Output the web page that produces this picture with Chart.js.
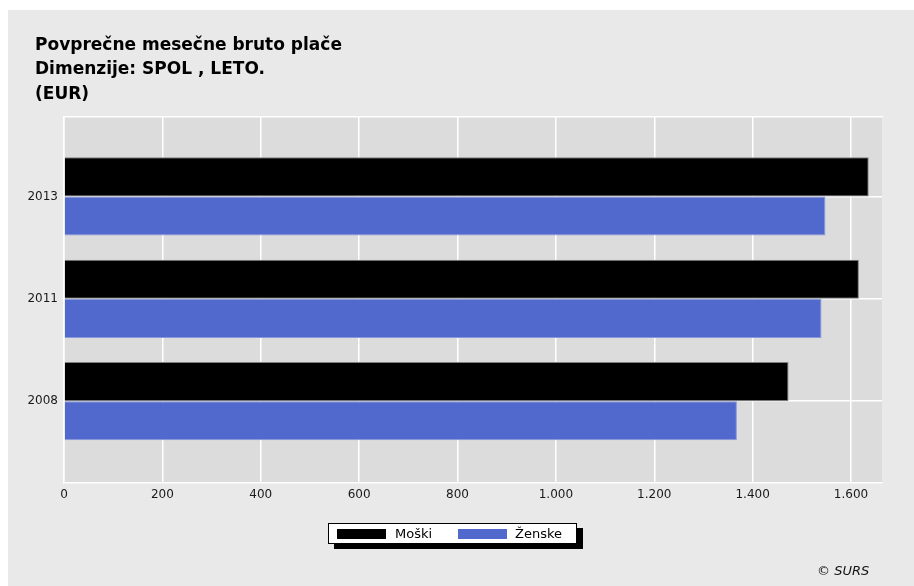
<!DOCTYPE html>
<html>
<head>
<meta charset="utf-8">
<script src="https://cdn.jsdelivr.net/npm/chart.js@4"></script>
<style>
  body { margin: 0; background: #fff; width: 914px; height: 586px; overflow: hidden; position: relative; font-family: "DejaVu Sans", sans-serif; }
  #panel { position: absolute; left: 8px; top: 10px; width: 906px; height: 576px; background: #e9e9e9; }
  #legend { position: absolute; left: 328px; top: 523px; width: 247px; height: 19px; background: #fff; border: 1px solid #000; box-shadow: 6px 5px 0 #000; font-size: 13px; color: #000; }
  #legend span.sw { position: absolute; top: 5px; width: 49px; height: 10px; }
  #legend span.lb { position: absolute; top: 1px; line-height: 17px; }
  #src { position: absolute; left: 817px; top: 563px; font-size: 13px; font-style: italic; color: #111; }
</style>
</head>
<body>
<div id="panel"><canvas id="chart" width="906" height="576"></canvas></div>
<div id="legend"></div>
<div id="src">© SURS</div>
<script>
// --- Data ---
const years = ["2013", "2011", "2008"];
const male = [1636, 1616, 1473];
const female = [1548, 1540, 1368];
const seriesNames = ["Moški", "Ženske"];
const seriesColors = ["#000000", "#5168cc"];
const seriesBorders = ["#808080", "#8797dc"];
const titleLines = ["Povprečne mesečne bruto plače", "Dimenzije: SPOL , LETO.", "(EUR)"];

const X_MAX = 1663;
const Y_MIN = -0.777;
const Y_MAX = 2.80;
const TITLE_LEFT = 27;

// Plot area background + title indent
const plotBg = {
  id: "plotBg",
  afterLayout(chart) {
    if (chart.titleBlock) chart.titleBlock.left = TITLE_LEFT;
  },
  beforeDraw(chart) {
    const { ctx, chartArea: a } = chart;
    ctx.save();
    ctx.fillStyle = "#dcdcdc";
    ctx.fillRect(a.left, a.top, a.right - a.left, a.bottom - a.top);
    ctx.restore();
  }
};

const fmt = v => String(v).replace(/\B(?=(\d{3})+(?!\d))/g, ".");

const chart = new Chart(document.getElementById("chart"), {
  type: "bar",
  data: {
    datasets: [male, female].map((vals, s) => ({
      label: seriesNames[s],
      data: vals.map((v, i) => ({ x: v, y: i })),
      backgroundColor: seriesColors[s],
      borderColor: seriesBorders[s],
      borderWidth: 1,
      categoryPercentage: 0.765,
      barPercentage: 1
    }))
  },
  options: {
    indexAxis: "y",
    responsive: false,
    animation: false,
    layout: { padding: { left: 0, right: 32, top: 0, bottom: 0 } },
    plugins: {
      legend: { display: false },
      tooltip: { enabled: false },
      title: {
        display: true,
        text: titleLines,
        align: "start",
        color: "#000",
        font: { family: "DejaVu Sans", size: 17, weight: "bold", lineHeight: 1.45 },
        padding: { top: 23, bottom: 10 }
      }
    },
    scales: {
      x: {
        type: "linear",
        min: 0,
        max: X_MAX,
        afterFit: s => { s.height = 103; },
        ticks: {
          stepSize: 200,
          includeBounds: false,
          padding: 5,
          color: "#1a1a1a",
          font: { family: "DejaVu Sans", size: 12 },
          callback: v => fmt(v)
        },
        grid: { color: "#ffffff", lineWidth: 1.5, drawTicks: false },
        border: { display: true, color: "#ffffff", width: 1.5 }
      },
      // top edge of the plot: only its white border line is shown
      xTop: {
        type: "linear",
        position: "top",
        min: 0,
        max: X_MAX,
        afterFit: s => { s.height = 0; },
        ticks: { display: false },
        grid: { display: false, drawTicks: false },
        border: { display: true, color: "#ffffff", width: 1.5 }
      },
      y: {
        type: "linear",
        reverse: true,
        offset: false,
        min: Y_MIN,
        max: Y_MAX,
        afterFit: s => { s.width = 56; },
        afterBuildTicks: s => {
          s.ticks = years.map((_, i) => ({ value: i }));
        },
        ticks: {
          padding: 6,
          color: "#1a1a1a",
          font: { family: "DejaVu Sans", size: 12 },
          autoSkip: false,
          callback: v => (years[v] !== undefined ? years[v] : "")
        },
        grid: { color: "#ffffff", lineWidth: 1.5, drawTicks: false, offset: false },
        border: { display: true, color: "#ffffff", width: 1.5 }
      }
    }
  },
  plugins: [plotBg]
});

// HTML legend built from the datasets
const legend = document.getElementById("legend");
const swX = [8, 129];
const lbX = [66, 186];
chart.data.datasets.forEach((ds, i) => {
  const sw = document.createElement("span");
  sw.className = "sw";
  sw.style.left = swX[i] + "px";
  sw.style.background = ds.backgroundColor;
  legend.appendChild(sw);
  const lb = document.createElement("span");
  lb.className = "lb";
  lb.style.left = lbX[i] + "px";
  lb.textContent = ds.label;
  legend.appendChild(lb);
});
</script>
</body>
</html>
